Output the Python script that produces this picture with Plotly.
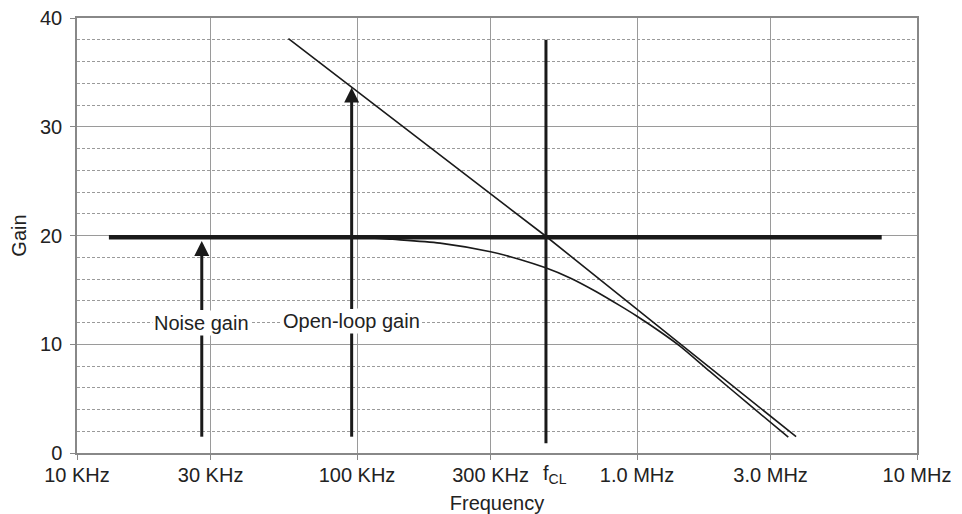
import numpy as np
import plotly.graph_objects as go

# ---- data ----
tick_vals = [1e4, 3e4, 1e5, 3e5, 1e6, 3e6, 1e7]
tick_text = ["10 KHz", "30 KHz", "100 KHz", "300 KHz", "1.0 MHz", "3.0 MHz", "10 MHz"]
y_ticks = [0, 10, 20, 30, 40]

noise_f = [13.0e3, 7.48e6]
noise_g = [19.85, 19.85]

asym_f = [56.9e3, 469e3, 3.70e6]
asym_g = [38.1, 20.0, 1.5]

cl_f = [50.1e3, 100e3, 134e3, 198e3, 300e3, 382e3, 469e3, 577e3, 708e3,
        869e3, 997e3, 1.21e6, 1.42e6, 1.82e6, 2.53e6, 3.47e6]
cl_g = [19.95, 19.85, 19.65, 19.3, 18.5, 17.8, 17.05, 16.1, 14.9,
        13.55, 12.6, 11.15, 9.85, 7.5, 4.4, 1.45]

fcl_f = [473e3, 473e3]
fcl_g = [0.9, 38.0]

# arrows: x, [tail gain, label gain, tip gain], label
arrow_noise_f = 27.9e3
arrow_noise_g = [1.5, 12.0, 19.5]
arrow_ol_f = 95.7e3
arrow_ol_g = [1.5, 12.1, 33.6]
arrow_labels = ["Noise gain", "Open-loop gain"]

FONT = "Liberation Sans, Arial, sans-serif"
TXT = "#222222"
FS = 20
INK = "#1a1a1a"

fig = go.Figure()
fig.add_trace(go.Scatter(x=noise_f, y=noise_g, mode="lines",
                         line=dict(color=INK, width=4.5), hoverinfo="skip"))
fig.add_trace(go.Scatter(x=cl_f, y=cl_g, mode="lines", line_shape="spline",
                         line=dict(color=INK, width=1.6, smoothing=0.8), hoverinfo="skip"))
fig.add_trace(go.Scatter(x=asym_f, y=asym_g, mode="lines",
                         line=dict(color=INK, width=1.6), hoverinfo="skip"))
fig.add_trace(go.Scatter(x=fcl_f, y=fcl_g, mode="lines",
                         line=dict(color=INK, width=3), hoverinfo="skip"))

anns = []
for f, g, lab in [(arrow_noise_f, arrow_noise_g, arrow_labels[0]),
                  (arrow_ol_f, arrow_ol_g, arrow_labels[1])]:
    # lower part of the shaft
    fig.add_trace(go.Scatter(x=[f, f], y=[g[0], g[1]], mode="lines",
                             line=dict(color=INK, width=3), hoverinfo="skip"))
    lx = float(np.log10(f))
    anns.append(dict(x=lx, y=g[2], ax=lx, ay=g[1], xref="x", yref="y",
                     axref="x", ayref="y", text=lab, showarrow=True,
                     arrowhead=2, arrowsize=1, arrowwidth=3, arrowcolor=INK,
                     standoff=0, bgcolor="white", borderpad=1,
                     font=dict(family=FONT, size=FS, color=TXT)))

anns.append(dict(x=float(np.log10(fcl_f[0])), y=-0.05, xref="x", yref="paper",
                 text="f<sub>CL</sub>", showarrow=False, xanchor="left", yanchor="middle",
                 xshift=-5, font=dict(family=FONT, size=FS, color=TXT)))

fig.update_layout(
    width=962, height=514,
    margin=dict(l=77, r=45, t=18, b=61),
    paper_bgcolor="white", plot_bgcolor="white",
    showlegend=False,
    font=dict(family=FONT, size=FS, color=TXT),
    annotations=anns,
)
fig.update_xaxes(
    type="log", range=[4, 7], automargin=False,
    tickmode="array", tickvals=tick_vals, ticktext=tick_text,
    ticks="outside", ticklen=5, tickcolor="#888888", tickwidth=1,
    showgrid=True, gridcolor="#9a9a9a", gridwidth=1,
    showline=True, linecolor="#888888", linewidth=1.5, mirror=True,
    tickfont=dict(family=FONT, size=FS, color=TXT),
    ticklabelstandoff=-2,
    title=dict(text="Frequency", font=dict(family=FONT, size=FS, color=TXT), standoff=13),
    zeroline=False,
)
fig.update_yaxes(
    range=[0, 40], tickmode="array", tickvals=y_ticks, automargin=False,
    ticks="outside", ticklen=5, tickcolor="#888888", tickwidth=1,
    showgrid=True, gridcolor="#9a9a9a", gridwidth=1,
    showline=True, linecolor="#888888", linewidth=1.5, mirror=True,
    tickfont=dict(family=FONT, size=FS, color=TXT),
    ticklabelstandoff=4,
    minor=dict(dtick=2, tick0=0, showgrid=True, gridcolor="#9a9a9a",
               griddash="3px,2px", gridwidth=1, ticks=""),
    title=dict(text="Gain", font=dict(family=FONT, size=FS, color=TXT), standoff=8),
    zeroline=False,
)

fig.write_html("out.html")
